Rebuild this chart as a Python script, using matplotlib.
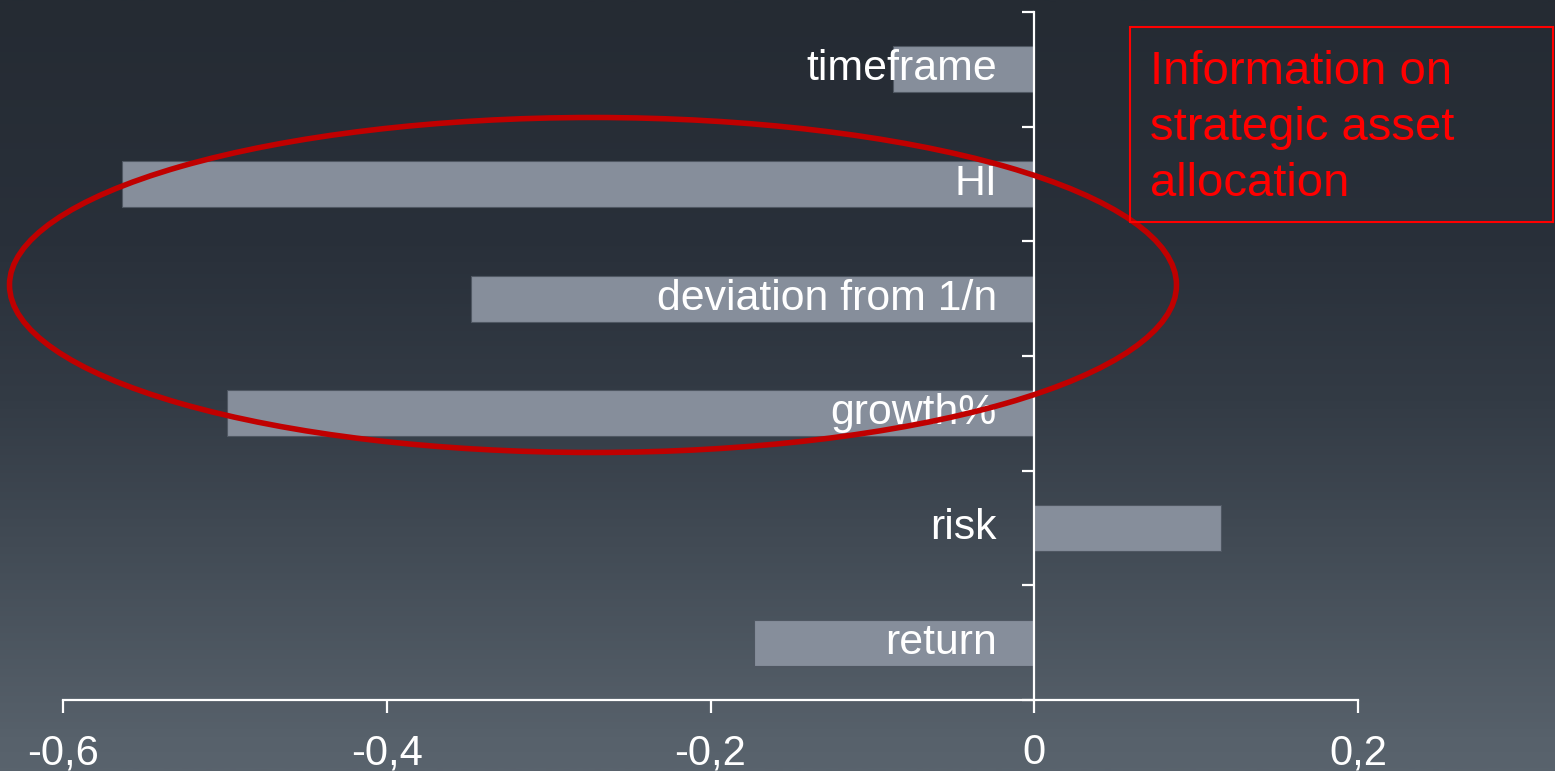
import numpy as np
import matplotlib
matplotlib.use("Agg")
import matplotlib.pyplot as plt
from matplotlib.colors import LinearSegmentedColormap
from matplotlib.patches import Ellipse, Rectangle
from matplotlib.ticker import FuncFormatter

categories = ["return", "risk", "growth%", "deviation from 1/n", "HI", "timeframe"]
values = [-0.173, 0.1155, -0.4986, -0.3479, -0.5637, -0.0871]
xticks = [-0.6, -0.4, -0.2, 0.0, 0.2]
note = "Information on\nstrategic asset\nallocation"

BAR = "#868e9b"
WHITE = "#ffffff"
plt.rcParams["font.family"] = ["Liberation Sans", "DejaVu Sans"]

fig = plt.figure(figsize=(15.55, 7.71), dpi=100)

# background gradient (top dark -> bottom lighter slate)
bg = fig.add_axes([0, 0, 1, 1], zorder=0)
cmap = LinearSegmentedColormap.from_list(
    "bg", [(0.0, "#252b33"), (0.32, "#29303a"), (0.52, "#333b45"),
           (0.71, "#424b55"), (0.96, "#57616b"), (1.0, "#59636d")])
bg.imshow(np.linspace(0, 1, 400).reshape(-1, 1), cmap=cmap, aspect="auto",
          extent=(0, 1, 1, 0))
bg.axis("off")

ax = fig.add_axes([63 / 1555, 1 - 700 / 771, (1358 - 63) / 1555, (700 - 12) / 771], zorder=1)
ax.set_facecolor("none")
ypos = np.arange(len(categories))
ax.barh(ypos, values, height=0.4, color=BAR, edgecolor="#4f5762", linewidth=0.8, zorder=2)
for y, lab in zip(ypos, categories):
    ax.annotate(lab, (0, y), xytext=(-27, 0), textcoords="offset points",
                ha="right", va="center", color=WHITE, fontsize=30.8, zorder=3)

ax.set_xlim(-0.6, 0.2)
ax.set_ylim(-0.5, len(categories) - 0.5)
ax.set_xticks(xticks)
ax.xaxis.set_major_formatter(FuncFormatter(lambda v, p: ("%g" % round(v, 1)).replace(".", ",")))
ax.set_yticks(np.arange(-0.5, len(categories), 1.0))
ax.set_yticklabels([])
for s in ["top", "right"]:
    ax.spines[s].set_visible(False)
ax.spines["left"].set_position(("data", 0))
for s in ["left", "bottom"]:
    ax.spines[s].set_color(WHITE)
    ax.spines[s].set_linewidth(1.6)
ax.tick_params(axis="x", colors=WHITE, length=9, width=1.6, labelsize=30, pad=15)
ax.tick_params(axis="y", colors=WHITE, length=8.5, width=1.6)

# annotation shapes
fig.patches.append(Ellipse((593 / 1555, 1 - 285 / 771), 1167 / 1555, 335 / 771,
                           transform=fig.transFigure, fill=False, edgecolor="#c00000",
                           linewidth=4, zorder=5))
fig.patches.append(Rectangle((1130 / 1555, 1 - 222 / 771), 423 / 1555, 195 / 771,
                             transform=fig.transFigure, fill=False, edgecolor="#ff0000",
                             linewidth=1.5, zorder=5))
fig.text(1150 / 1555, 1 - 50 / 771, note, color="#ff0000", fontsize=34,
         ha="left", va="top", linespacing=1.36, zorder=6)

fig.savefig("out.png", dpi=100)
